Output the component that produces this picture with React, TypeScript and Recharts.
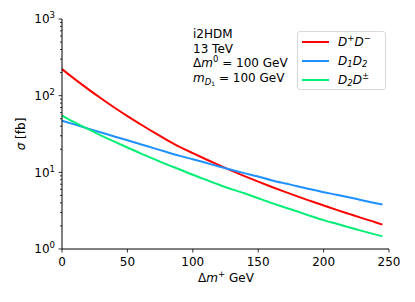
import { LineChart, Line, XAxis, YAxis } from "recharts"

const masses = [0, 10, 20, 30, 40, 50, 60, 70, 80, 90, 100, 110, 120, 130, 140, 150, 160, 170, 180, 190, 200, 210, 220, 230, 240, 245]
const sigmaDpDm = [222, 163.3, 121.9, 91.8, 70.0, 54.1, 42.4, 33.4, 26.6, 21.5, 17.8, 14.8, 12.4, 10.45, 8.85, 7.55, 6.49, 5.6, 4.85, 4.23, 3.7, 3.24, 2.85, 2.51, 2.22, 2.08]
const sigmaD1D2 = [47.1, 41.9, 37.2, 33.1, 29.4, 26.2, 23.3, 20.7, 18.4, 16.4, 14.8, 13.3, 11.9, 10.7, 9.7, 8.8, 7.9, 7.2, 6.6, 6.0, 5.5, 5.1, 4.7, 4.3, 3.95, 3.8]
const sigmaD2Dpm = [55.0, 44.5, 36.5, 30.2, 25.2, 21.1, 17.7, 15.0, 12.7, 10.9, 9.3, 8.0, 6.9, 6.0, 5.3, 4.6, 4.0, 3.5, 3.08, 2.7, 2.38, 2.13, 1.91, 1.71, 1.54, 1.46]

const xTicks = [0, 50, 100, 150, 200, 250]
const yTicks = [1, 2, 3, 4, 5, 6, 7, 8, 9, 10, 20, 30, 40, 50, 60, 70, 80, 90, 100, 200, 300, 400, 500, 600, 700, 800, 900, 1000]

const data = masses.map((m, i) => ({
    m,
    dpdm: sigmaDpDm[i],
    d1d2: sigmaD1D2[i],
    d2dpm: sigmaD2Dpm[i],
}))

const FONT = "DejaVu Sans"

const series = [
    { key: "dpdm", color: "#ff0000", label: <>D<sup style={{ fontSize: 8.5, verticalAlign: 5, lineHeight: 0 }}>+</sup>D<sup style={{ fontSize: 8.5, verticalAlign: 5, lineHeight: 0 }}>−</sup></> },
    { key: "d1d2", color: "#1e90ff", label: <>D<sub style={{ fontSize: 8.5, verticalAlign: -2, lineHeight: 0 }}>1</sub>D<sub style={{ fontSize: 8.5, verticalAlign: -2, lineHeight: 0 }}>2</sub></> },
    { key: "d2dpm", color: "#00ee76", label: <>D<sub style={{ fontSize: 8.5, verticalAlign: -2, lineHeight: 0 }}>2</sub>D<sup style={{ fontSize: 8.5, verticalAlign: 5, lineHeight: 0 }}>±</sup></> },
]

function XTick(props: any) {
    const { x, y, payload } = props
    return (
        <g>
            <line x1={x} x2={x} y1={y} y2={y + 3.5} stroke="#000" strokeWidth={0.8} />
            <text x={x} y={y + 16.5} textAnchor="middle" fontSize={12} fontFamily={FONT} fill="#000">
                {payload.value}
            </text>
        </g>
    )
}

function YTick(props: any) {
    const { x, y, payload } = props
    const v = payload.value
    const exp = Math.round(Math.log10(v))
    const major = Math.abs(Math.pow(10, exp) - v) < 1e-9
    return (
        <g>
            <line x1={x} x2={x - (major ? 3.5 : 2)} y1={y} y2={y} stroke="#000" strokeWidth={0.8} />
            {major && (
                <text x={x - 7} y={y + 4.3} textAnchor="end" fontSize={12} fontFamily={FONT} fill="#000">
                    10<tspan dy={-5} fontSize={8.5}>{exp}</tspan>
                </text>
            )}
        </g>
    )
}

export default function App() {
    return (
        <div style={{ position: "absolute", left: 0, top: 0, width: 415, height: 302, fontFamily: FONT, color: "#000" }}>
            <LineChart width={415} height={302} data={data} margin={{ top: 19, right: 26, bottom: 0, left: 0 }}>
                <XAxis
                    dataKey="m"
                    type="number"
                    domain={[0, 250]}
                    ticks={xTicks}
                    height={53}
                    tickSize={0}
                    tickMargin={0}
                    tickLine={false}
                    tick={<XTick />}
                    axisLine={{ stroke: "#000", strokeWidth: 1 }}
                />
                <XAxis xAxisId="top" orientation="top" dataKey="m" type="number" domain={[0, 250]} height={0} tick={false} tickLine={false} axisLine={{ stroke: "#000", strokeWidth: 1 }} />
                <YAxis
                    scale="log"
                    type="number"
                    domain={[1, 1000]}
                    allowDataOverflow
                    ticks={yTicks}
                    interval={0}
                    width={62}
                    tickSize={0}
                    tickMargin={0}
                    tickLine={false}
                    tick={<YTick />}
                    axisLine={{ stroke: "#000", strokeWidth: 1 }}
                />
                <YAxis yAxisId="right" orientation="right" width={0} tick={false} tickLine={false} axisLine={{ stroke: "#000", strokeWidth: 1 }} />
                {series.map((s) => (
                    <Line
                        key={s.key}
                        dataKey={s.key}
                        type="monotone"
                        stroke={s.color}
                        strokeWidth={2}
                        dot={false}
                        isAnimationActive={false}
                    />
                ))}
            </LineChart>

            {/* annotation */}
            <div style={{ position: "absolute", left: 193, top: 27, fontSize: 12, lineHeight: "14.5px", whiteSpace: "nowrap" }}>
                <div>i2HDM</div>
                <div>13 TeV</div>
                <div>Δ<i>m</i><sup style={{ fontSize: 8.5, verticalAlign: 5, lineHeight: 0 }}>0</sup> = 100 GeV</div>
                <div><i>m</i><sub style={{ fontSize: 8.5, verticalAlign: -3, lineHeight: 0 }}><i>D</i><sub style={{ fontSize: 6, verticalAlign: -1 }}>1</sub></sub> = 100 GeV</div>
            </div>

            {/* legend */}
            <div
                style={{
                    position: "absolute",
                    left: 297,
                    top: 31,
                    width: 89,
                    height: 59,
                    border: "1px solid #d9d9d9",
                    borderRadius: 3,
                    boxSizing: "border-box",
                    background: "rgba(255,255,255,0.8)",
                }}
            >
                {series.map((s, i) => (
                    <div key={s.key} style={{ position: "absolute", left: 4, top: 2 + i * 18.8, height: 16, display: "flex", alignItems: "center", whiteSpace: "nowrap" }}>
                        <div style={{ width: 27, height: 2, background: s.color }} />
                        <span style={{ marginLeft: 9, fontSize: 12, fontStyle: "italic", lineHeight: "16px" }}>
                            {s.label}
                        </span>
                    </div>
                ))}
            </div>

            {/* axis labels */}
            <div style={{ position: "absolute", left: 226, top: 271, transform: "translateX(-50%)", fontSize: 12, whiteSpace: "nowrap" }}>
                Δ<i>m</i><sup style={{ fontSize: 8.5, verticalAlign: 5, lineHeight: 0 }}>+</sup> GeV
            </div>
            <div style={{ position: "absolute", left: 21, top: 134, transform: "translate(-50%, -50%) rotate(-90deg)", fontSize: 12, whiteSpace: "nowrap" }}>
                <i>σ</i> [fb]
            </div>
        </div>
    )
}
